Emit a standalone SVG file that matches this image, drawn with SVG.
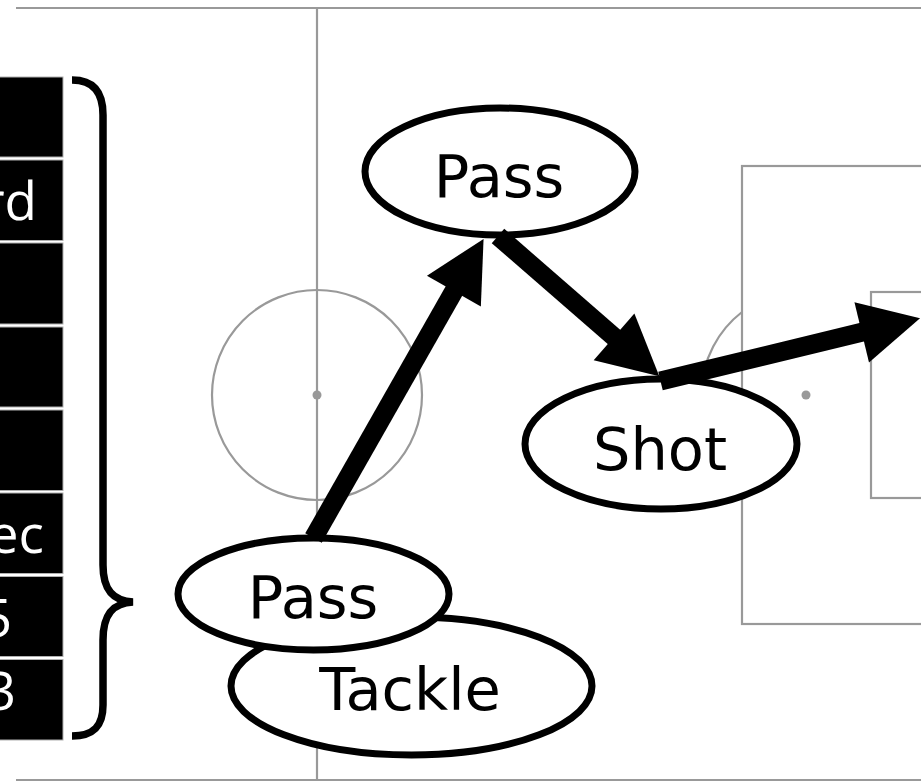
<svg xmlns="http://www.w3.org/2000/svg" width="921" height="782" viewBox="0 0 921 782">
<style>
.pitch{fill:none;stroke:#999;stroke-width:2.2}
.spot{fill:#999}
.node ellipse{fill:#fff;stroke:#000;stroke-width:7}
.node text{font-family:"DejaVu Sans",sans-serif;font-size:59px;fill:#000;text-anchor:middle}
.cell{fill:#000;stroke:#b0b0b0;stroke-width:1}
.ctext{font-family:"Open Sans",sans-serif;font-size:53px;fill:#fff;text-anchor:end}
.edge{fill:none;stroke:#000;stroke-width:19;marker-end:url(#head)}
</style>
<defs>
<marker id="head" markerUnits="userSpaceOnUse" markerWidth="62" markerHeight="64" refX="1" refY="31" orient="auto" overflow="visible">
<path d="M0,0 L60,31 L0,62 Z" fill="#000"/>
</marker>
</defs>
<rect width="921" height="782" fill="#fff"/>
<g id="pitch">
<line class="pitch" x1="16" y1="8" x2="921" y2="8" stroke-width="2.5"/>
<line class="pitch" x1="16" y1="780" x2="921" y2="780" stroke-width="2.5"/>
<line class="pitch" x1="317" y1="8" x2="317" y2="780"/>
<circle class="pitch" cx="317" cy="395" r="105"/>
<circle class="spot" cx="317" cy="395" r="4.5"/>
<rect class="pitch" x="742" y="166" width="200" height="458"/>
<rect class="pitch" x="871" y="292" width="100" height="206"/>
<circle class="spot" cx="806" cy="395" r="4.5"/>
<path class="pitch" d="M742,312 A105,105 0 0 0 742,478"/>
</g>
<g id="table">
<rect class="cell" x="-5" y="77" width="68" height="80"/>
<rect class="cell" x="-5" y="160" width="68" height="80.5"/>
<rect class="cell" x="-5" y="243" width="68" height="81"/>
<rect class="cell" x="-5" y="327" width="68" height="80"/>
<rect class="cell" x="-5" y="410" width="68" height="80.5"/>
<rect class="cell" x="-5" y="493" width="68" height="80.5"/>
<rect class="cell" x="-5" y="576.5" width="68" height="80"/>
<rect class="cell" x="-5" y="659.5" width="68" height="80.5"/>
<text class="ctext" x="37" y="220">rd</text>
<text class="ctext" x="44" y="553">ec</text>
<text class="ctext" x="12" y="637">5</text>
<text class="ctext" x="16" y="710">3</text>
</g>
<g id="brace">
<path d="M72,80 C94,80 103,93 103,115 L103,565 C103,590 113,601 133,602 C113,603 103,614 103,640 L103,705 C103,726 94,736 72,736" fill="none" stroke="#000" stroke-width="7.5"/>
</g>
<g id="node-tackle" class="node">
<ellipse cx="411.5" cy="686" rx="180.5" ry="69"/>
<text x="410" y="710">Tackle</text>
</g>
<g id="node-pass2" class="node">
<ellipse cx="313.5" cy="594" rx="135.5" ry="56"/>
<text x="313" y="618">Pass</text>
</g>
<g id="node-pass1" class="node">
<ellipse cx="500" cy="171.5" rx="135" ry="63.5"/>
<text x="499" y="197">Pass</text>
</g>
<g id="node-shot" class="node">
<ellipse cx="661" cy="444" rx="136" ry="65"/>
<text x="660" y="470">Shot</text>
</g>
<g id="connectors">
<line class="edge" x1="313.5" y1="538" x2="454.4" y2="290.2"/>
<line class="edge" x1="498" y1="236" x2="614.8" y2="337.6"/>
<line class="edge" x1="660.5" y1="381" x2="862.7" y2="332.1"/>
</g>
</svg>
